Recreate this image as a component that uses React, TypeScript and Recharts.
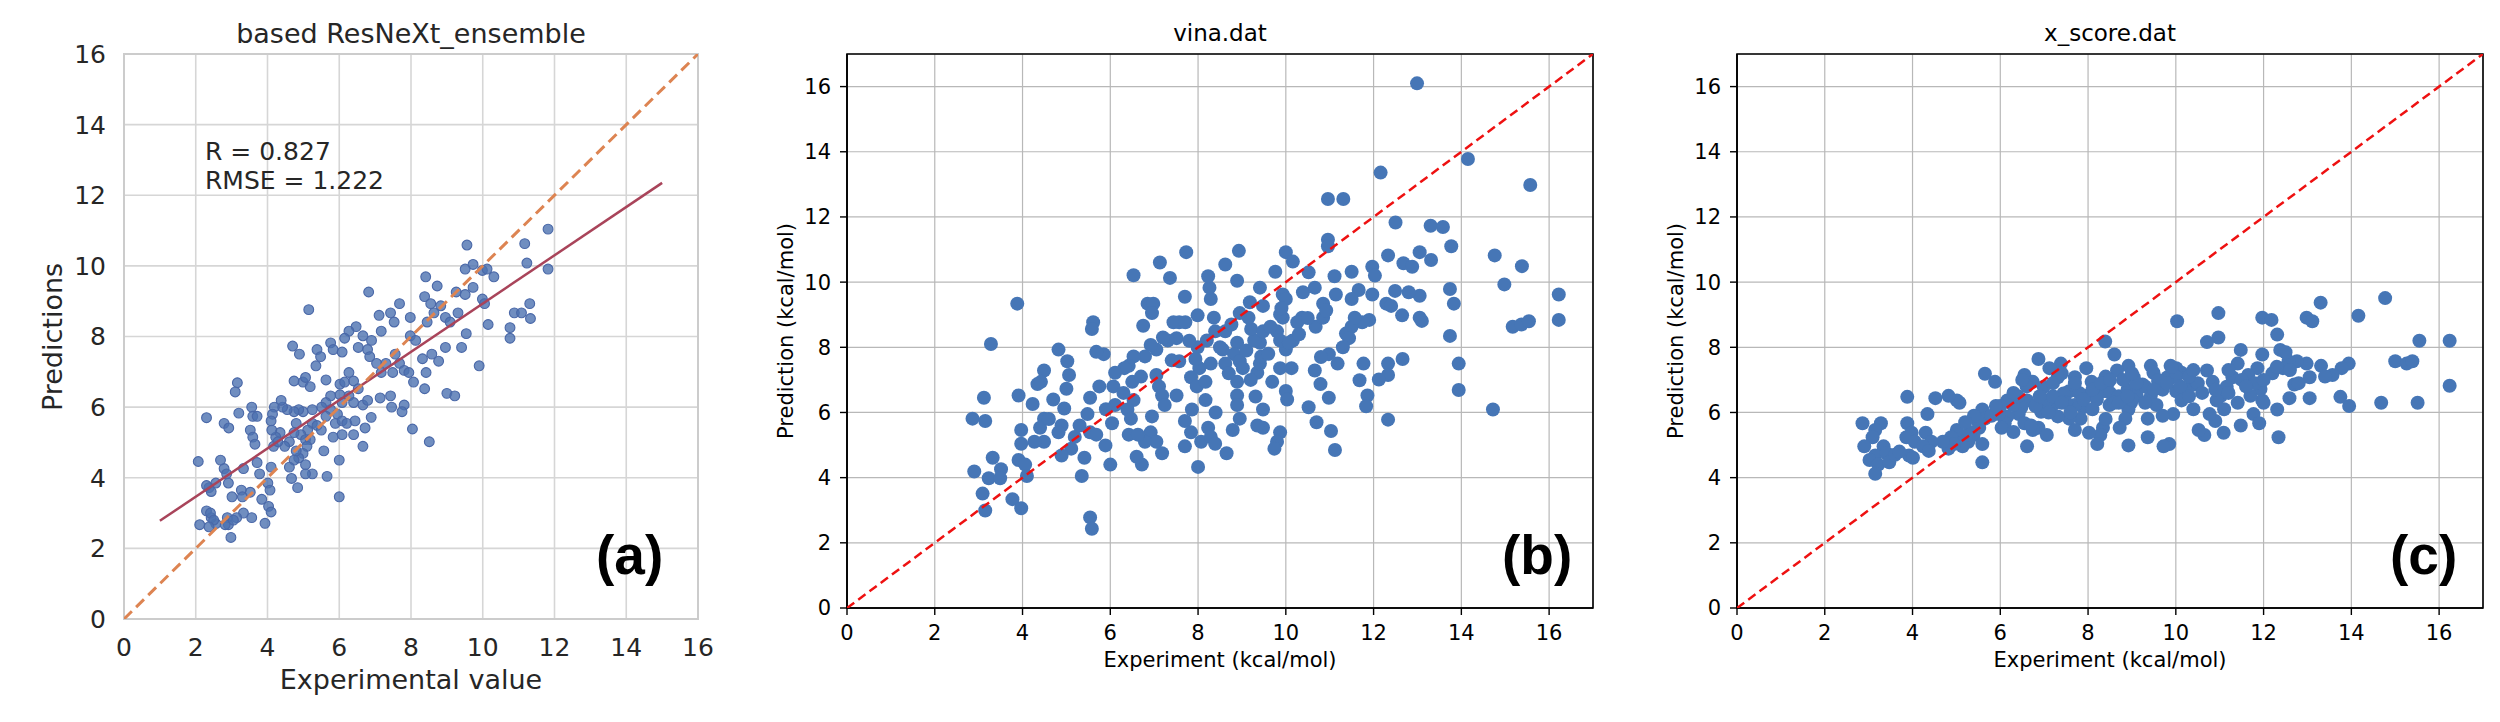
import React from 'react';
import { ScatterChart, Scatter, XAxis, YAxis, CartesianGrid, ReferenceArea } from 'recharts';

// ---------- Panel (a): based ResNeXt_ensemble ----------
const resnextExp = [11.82,11.17,11.23,11.82,9.56,9.73,9.51,9.99,10.12,10.31,10.15,10.76,10.76,10.88,11.08,11.31,11.33,9.99,10.05,8.41,8.73,9.26,9.51,9.73,9.54,9.41,9.90,8.96,9.00,9.22,8.77,8.58,8.64,8.38,8.45,8.55,8.83,8.96,9.09,9.31,7.98,7.98,8.13,7.68,7.56,7.81,7.94,8.07,7.81,7.75,8.04,8.51,8.38,8.42,8.32,7.68,7.43,7.53,7.11,7.17,6.82,6.90,7.04,7.30,7.17,7.49,7.14,7.43,7.46,6.89,6.72,6.66,6.47,6.66,6.27,6.15,6.53,6.79,6.85,6.08,5.76,5.83,5.38,5.48,5.35,5.15,4.70,4.89,4.99,5.06,4.74,5.19,5.63,6.02,6.15,6.27,6.40,6.53,6.27,6.40,6.66,6.79,6.02,6.08,5.76,5.63,5.51,5.76,5.95,5.63,5.89,6.08,6.21,6.44,6.40,6.08,5.83,6.00,6.00,5.66,5.57,5.25,5.25,5.38,5.50,5.12,4.99,4.87,4.74,4.55,4.80,4.93,5.06,5.19,5.10,4.99,4.87,5.06,5.25,4.74,4.61,4.48,4.80,4.74,4.61,4.67,5.06,4.84,4.35,4.23,4.42,4.38,4.19,4.14,4.10,4.12,4.17,4.29,4.10,4.01,4.07,4.03,4.10,3.93,3.78,3.71,3.84,3.52,3.56,3.33,3.27,3.30,3.14,3.01,3.56,3.59,3.71,3.52,3.59,3.65,3.20,3.16,3.10,3.33,2.79,2.86,2.91,2.56,2.37,2.43,2.30,2.30,2.07,2.79,2.92,2.56,2.88,2.91,2.82,2.98,2.30,2.43,2.41,2.50,2.11,2.37,2.69,3.05];
const resnextPred = [11.04,10.63,10.08,9.91,10.59,10.04,9.91,9.87,9.91,9.69,8.34,7.95,8.25,8.67,8.67,8.93,8.51,9.06,8.93,9.69,9.43,9.26,9.19,9.39,8.08,7.69,7.17,7.69,6.39,6.32,7.30,7.50,8.67,9.13,8.41,8.93,8.87,8.54,8.41,8.67,8.54,8.02,7.89,7.24,7.50,7.04,6.98,6.71,6.06,5.87,5.38,5.02,6.52,6.98,7.37,8.93,8.67,8.41,8.60,8.15,9.26,7.89,7.24,7.24,6.98,6.98,6.26,6.32,6.00,5.71,5.41,4.89,8.28,8.02,8.15,7.95,7.69,7.63,7.43,7.56,7.82,7.63,7.63,7.43,7.17,8.76,7.73,7.50,6.71,6.84,6.74,6.58,6.77,6.65,6.71,6.98,6.74,6.52,6.32,6.13,6.06,6.19,6.35,6.13,6.32,6.13,6.00,5.93,5.80,5.74,5.54,5.61,5.54,5.61,5.22,5.22,5.15,4.50,3.46,4.04,4.76,5.93,5.54,5.48,5.35,5.35,5.87,5.93,5.87,5.93,5.54,5.22,5.08,5.08,4.89,4.69,4.56,4.37,4.11,5.28,5.02,4.89,4.76,4.50,4.30,3.98,4.11,3.72,5.28,5.15,6.00,6.19,6.00,5.80,5.61,5.35,4.89,5.02,4.30,3.85,3.65,3.19,3.03,2.71,4.11,4.43,3.39,3.59,2.87,3.00,3.65,3.46,2.87,3.46,6.00,5.74,5.74,5.35,5.15,4.95,5.83,6.69,6.43,4.26,4.26,4.11,3.85,3.85,3.72,3.61,3.78,5.70,4.46,5.54,5.41,2.70,2.87,2.67,2.67,2.31,3.06,2.87,3.00,2.80,2.67,2.61,4.50,2.80];
const identityA = [{ x: 0, y: 0 }, { x: 16, y: 16 }];
const regressionA = [{ x: 1, y: 2.78 }, { x: 15, y: 12.35 }];
const ticksA = [0, 2, 4, 6, 8, 10, 12, 14, 16];

// ---------- Panel (b): vina.dat ----------
const vinaExp = [12.99,14.15,12.16,15.57,10.96,11.31,12.50,13.30,13.58,10.96,10.96,13.77,13.05,12.33,14.76,13.31,10.00,8.93,7.73,7.13,8.62,6.53,7.36,10.16,10.52,11.11,11.50,11.97,12.03,12.68,12.88,15.38,14.98,16.22,16.22,15.17,15.37,15.54,13.74,13.83,13.74,13.94,13.94,14.72,13.05,13.05,13.10,12.65,12.80,12.49,12.29,12.40,12.66,12.33,12.33,12.12,12.33,11.90,11.74,11.50,11.37,11.44,11.57,11.97,11.66,11.50,11.14,10.85,11.77,11.68,11.86,11.83,11.18,10.98,10.98,10.79,10.66,10.70,11.03,11.12,10.52,10.68,10.85,10.92,10.37,10.26,10.39,10.66,10.16,10.00,9.93,10.00,9.93,9.76,9.87,9.80,9.87,10.07,10.13,9.87,10.00,10.03,9.87,9.80,9.74,9.69,9.48,9.48,9.35,9.31,9.35,9.41,9.44,9.41,9.28,9.21,9.48,9.65,9.15,9.18,9.48,9.41,8.89,8.95,8.89,8.82,8.95,9.02,8.89,8.89,8.89,8.95,8.79,8.62,8.56,8.62,8.76,8.36,8.29,8.26,8.23,8.39,8.20,8.29,8.03,7.99,7.99,7.94,7.84,7.97,8.17,8.17,7.86,7.70,7.84,7.70,8.00,8.07,8.23,8.29,8.39,8.65,7.70,7.57,7.51,7.44,7.71,7.31,7.57,7.51,7.05,7.05,7.11,7.18,7.24,6.95,6.92,7.05,7.18,6.79,6.72,6.60,6.85,6.98,6.95,6.75,6.92,6.79,6.53,6.42,6.32,6.50,6.53,6.39,6.47,6.42,6.63,6.11,6.07,6.11,6.04,5.89,6.00,5.85,5.68,5.75,5.61,5.58,5.54,5.48,5.54,5.68,5.41,5.35,5.54,5.58,5.19,5.11,5.02,5.06,5.00,4.95,4.82,4.89,4.82,4.89,4.49,4.42,4.49,4.40,4.49,4.27,4.23,4.34,3.91,3.88,3.97,3.97,3.91,4.06,4.10,3.77,3.97,3.28,3.12,3.15,2.86,2.90,3.32,3.23,3.51,3.49,3.09,3.15,8.50,8.70,9.10,9.60,10.30,10.50,9.90,9.20,8.40,7.40,7.20,7.80,6.70,6.30,5.90,5.30,4.60,4.70,10.80,11.30];
const vinaPred = [16.10,13.78,13.36,12.98,12.55,12.55,11.83,11.73,11.69,11.30,11.10,11.10,10.92,10.82,10.82,10.68,10.92,10.96,10.92,10.60,10.54,10.21,10.13,10.63,10.30,10.18,10.32,10.47,10.20,10.58,10.47,10.49,9.93,9.62,8.84,8.63,8.70,8.80,9.79,9.34,8.35,7.50,6.69,6.09,9.58,8.91,8.81,8.98,9.69,9.73,9.34,9.27,7.64,7.50,7.15,7.01,5.78,8.84,8.77,8.63,8.42,8.28,8.91,9.62,9.76,9.48,9.62,9.34,7.50,6.99,6.52,6.19,7.50,7.79,6.45,6.87,7.29,5.70,5.43,4.85,6.16,8.63,8.91,9.13,8.91,8.77,9.69,9.83,8.21,7.93,9.62,9.48,8.91,10.32,9.01,8.49,8.21,8.14,7.36,7.36,6.66,6.40,5.39,5.10,4.89,6.94,6.09,5.53,5.60,6.49,7.22,7.50,7.72,8.14,8.21,8.56,8.49,8.63,8.91,9.38,9.27,9.83,10.04,9.05,8.14,7.79,7.57,7.36,6.94,6.52,6.23,5.81,5.46,7.50,7.93,8.49,8.70,8.91,9.48,9.83,10.18,8.49,8.21,7.50,7.36,8.00,8.98,7.64,7.08,6.80,6.94,6.38,6.09,5.74,5.39,4.96,4.33,5.10,5.53,5.25,5.04,4.75,9.55,8.77,8.28,8.77,8.77,8.21,7.57,6.52,7.93,7.15,6.80,6.52,6.23,5.88,5.39,5.10,4.75,5.10,4.40,4.64,9.34,9.34,9.05,8.66,8.07,7.72,7.72,7.43,7.36,6.94,6.38,6.09,5.81,5.32,5.32,7.22,6.80,6.23,5.67,4.99,4.40,7.79,7.86,6.80,8.77,8.56,6.45,5.95,5.39,5.32,4.61,4.05,2.78,2.43,5.25,4.89,7.57,7.15,6.73,6.12,7.93,5.60,5.39,4.68,7.29,6.94,5.81,5.53,5.10,5.10,6.26,6.87,6.52,9.34,5.46,5.04,4.54,4.40,4.05,3.34,3.06,8.10,6.45,5.74,5.81,4.19,4.61,3.98,4.26,3.98,3.51,2.99,8.00,7.20,7.90,7.80,8.40,8.90,9.20,7.00,6.00,7.60,8.30,8.20,7.10,6.60,6.10,5.60,5.80,6.40,7.70,8.00];

// ---------- Panel (c): x_score.dat ----------
const xscoreExp = [14.77,13.30,10.97,14.16,12.98,13.11,11.97,12.18,10.03,12.31,10.97,10.71,8.39,15.55,16.24,16.24,15.51,14.68,13.94,13.95,13.75,15.00,15.26,15.39,13.78,13.57,13.31,13.05,12.98,12.76,12.57,12.38,12.50,12.44,12.70,12.59,13.05,12.31,12.34,11.97,11.86,11.93,11.97,11.70,11.77,11.90,11.48,11.41,11.65,11.29,11.16,11.03,10.93,11.41,11.48,11.09,10.90,10.77,10.65,10.52,10.71,10.84,10.39,10.20,10.13,10.01,9.88,9.81,10.01,10.13,9.94,9.85,9.72,9.43,9.49,9.60,9.43,9.56,9.36,9.36,8.92,9.04,9.24,9.11,8.98,8.92,8.85,8.72,8.92,8.60,8.66,8.47,8.34,8.49,8.34,8.28,8.21,7.96,8.08,7.96,7.89,7.83,8.02,7.70,7.57,7.70,7.57,7.70,7.38,7.31,7.44,7.19,7.31,7.12,6.99,7.06,6.93,6.87,7.06,6.87,6.55,6.74,6.61,6.48,6.42,6.55,6.74,6.61,6.29,6.16,6.10,5.88,5.65,6.16,5.97,6.03,5.59,5.65,5.52,5.39,5.59,5.59,5.27,5.14,5.07,5.01,4.88,4.94,4.82,4.69,5.01,5.07,4.82,4.52,4.34,3.88,3.88,3.98,3.86,4.05,3.92,4.01,4.30,4.43,4.24,4.37,3.28,3.15,3.09,3.34,3.15,3.41,3.02,3.22,3.47,3.15,2.86,2.90,8.50,8.70,8.90,9.10,9.30,8.20,8.60,9.00,9.70,10.30,10.50,10.00,9.60,8.80,8.40,7.50,7.80,7.20,6.80,6.40,6.00,5.80,5.50,5.30,11.20,11.50,11.80,12.20,12.60,3.60,3.70,6.30,6.60,6.90,7.20,7.40,7.70,7.90,8.10,8.30,8.50,8.70,8.90,9.10,9.30,9.50,9.80,10.10,10.30,10.60,10.90,11.20,11.60,12.00,12.30,9.00,9.90,10.40,8.40,8.10,7.60,7.10,6.70,6.30,9.70,10.40,11.10,12.00,12.80,13.40,7.40,6.50,5.90,5.40,5.20];
const xscorePred = [9.51,9.37,9.05,8.97,8.91,8.80,8.91,8.84,8.80,8.39,8.30,8.16,8.18,8.20,8.20,6.82,6.30,6.30,7.50,6.20,6.48,7.57,7.50,7.57,7.36,7.15,7.43,7.08,7.50,7.57,7.57,7.92,7.85,7.36,6.86,6.44,6.44,6.09,5.24,7.78,7.36,6.72,6.37,6.51,5.95,5.67,7.92,7.50,7.15,7.08,6.79,6.51,6.37,6.30,5.60,5.38,5.74,5.95,5.31,5.46,7.29,6.94,6.86,6.72,7.22,7.36,7.43,7.08,6.65,6.37,5.95,5.03,4.96,7.43,7.22,6.94,6.51,6.23,5.81,5.24,7.43,7.08,6.86,6.51,6.30,6.09,5.81,5.53,4.99,7.78,7.29,6.94,6.65,6.23,5.53,5.31,5.03,7.36,6.94,6.51,6.16,5.81,5.38,7.08,6.65,6.23,5.81,5.46,7.50,7.08,6.58,6.23,5.88,7.36,6.79,6.37,6.02,5.53,5.31,7.64,7.15,6.94,6.37,6.16,5.95,5.67,5.46,4.96,6.23,5.88,5.67,6.94,7.19,6.37,5.95,5.53,6.09,5.81,5.53,5.31,5.03,4.47,5.10,4.96,5.31,5.46,5.24,5.03,4.89,5.10,6.37,6.30,6.51,6.44,5.95,6.48,5.67,5.38,5.24,5.10,4.68,4.61,5.38,5.10,4.96,4.82,5.67,5.46,5.24,4.96,4.68,4.75,4.54,4.40,4.47,4.12,5.67,4.96,6.60,6.50,6.70,6.60,6.80,6.40,6.30,6.40,6.70,6.50,6.90,7.10,7.00,7.00,7.10,6.30,6.60,6.50,6.20,6.50,6.20,5.90,5.70,5.40,7.30,7.00,6.90,7.20,7.30,4.70,4.80,6.60,6.80,6.50,6.90,6.30,6.90,6.40,6.70,6.90,7.00,6.30,6.50,6.90,6.30,6.70,6.90,6.80,7.10,6.60,6.70,6.60,6.80,7.00,7.40,7.20,7.40,7.30,5.80,6.10,6.00,6.00,5.60,5.40,5.90,6.10,6.10,6.30,6.90,7.10,7.20,7.00,6.20,5.90,5.70];
const identityBC = [{ x: 0, y: 0 }, { x: 17, y: 17 }];
const ticksBC = [0, 2, 4, 6, 8, 10, 12, 14, 16];

const zip = (xs: number[], ys: number[]) => xs.map((x, i) => ({ x, y: ys[i] }));
const dataA = zip(resnextExp, resnextPred);
const dataB = zip(vinaExp, vinaPred);
const dataC = zip(xscoreExp, xscorePred);

const FONT = "'DejaVu Sans', sans-serif";
const BOLD = "'Liberation Sans', Arial, sans-serif";

const dotA = (p: any) => (
  <circle cx={p.cx} cy={p.cy} r={4.9} fill="#4c72b0" fillOpacity={0.8} stroke="#4a68a8" strokeWidth={1.1} />
);
const dotBC = (p: any) => <circle cx={p.cx} cy={p.cy} r={7} fill="#4676b6" />;
const noDot = () => <g />;

function PanelA() {
  return (
    <ScatterChart width={760} height={722} margin={{ top: 54, right: 62, bottom: 63, left: 64 }}>
      <CartesianGrid stroke="#d6d6d6" strokeWidth={1.6} />
      <ReferenceArea x1={0} x2={16} y1={0} y2={16} fill="none" fillOpacity={0} stroke="#cccccc" strokeWidth={2} />
      <XAxis type="number" dataKey="x" domain={[0, 16]} ticks={ticksA} height={40} axisLine={false} tickLine={false} tickSize={0} tickMargin={19} tick={{ fontSize: 25, fill: '#262626', fontFamily: FONT }} allowDataOverflow />
      <YAxis type="number" dataKey="y" domain={[0, 16]} ticks={ticksA} width={60} axisLine={false} tickLine={false} tickSize={0} tickMargin={18} tick={{ fontSize: 25, fill: '#262626', fontFamily: FONT }} allowDataOverflow />
      <Scatter data={dataA} shape={dotA} isAnimationActive={false} />
      <Scatter data={regressionA} shape={noDot} line={{ stroke: '#a9445a', strokeWidth: 2.5 }} isAnimationActive={false} />
      <Scatter data={identityA} shape={noDot} line={{ stroke: '#dd8452', strokeWidth: 3, strokeDasharray: '11 6' }} isAnimationActive={false} />
    </ScatterChart>
  );
}

function PanelBC({ data, left, right }: { data: { x: number; y: number }[]; left: number; right: number }) {
  const tick = { fontSize: 21, fill: '#000', fontFamily: FONT };
  return (
    <ScatterChart width={left + 60 + 746 + right} height={722} margin={{ top: 54, right, bottom: 74, left }}>
      <CartesianGrid stroke="#b8b8b8" strokeWidth={1.2} />
      <XAxis type="number" dataKey="x" domain={[0, 17]} ticks={ticksBC} height={40} axisLine={{ stroke: '#000', strokeWidth: 1.6 }} tickLine={{ stroke: '#000', strokeWidth: 1.4 }} tickSize={7} tickMargin={10} tick={tick} allowDataOverflow />
      <YAxis type="number" dataKey="y" domain={[0, 17]} ticks={ticksBC} width={60} axisLine={{ stroke: '#000', strokeWidth: 1.6 }} tickLine={{ stroke: '#000', strokeWidth: 1.4 }} tickSize={7} tickMargin={9} tick={tick} allowDataOverflow />
      <Scatter data={data} shape={dotBC} isAnimationActive={false} />
      <Scatter data={identityBC} shape={noDot} line={{ stroke: '#ee1111', strokeWidth: 2.5, strokeDasharray: '9 5' }} isAnimationActive={false} />
      <ReferenceArea x1={0} x2={17} y1={0} y2={17} fill="none" fillOpacity={0} stroke="#000" strokeWidth={1.6} />
    </ScatterChart>
  );
}

export default function App() {
  return (
    <div style={{ position: 'absolute', left: 0, top: 0, width: 2500, height: 722, background: '#fff', overflow: 'hidden' }}>
      <div style={{ position: 'absolute', left: 0, top: 0 }}>
        <PanelA />
      </div>
      <div style={{ position: 'absolute', left: 760, top: 0 }}>
        <PanelBC data={dataB} left={27} right={27} />
      </div>
      <div style={{ position: 'absolute', left: 1620, top: 0 }}>
        <PanelBC data={dataC} left={57} right={17} />
      </div>
      <svg width={2500} height={722} style={{ position: 'absolute', left: 0, top: 0, pointerEvents: 'none' }}>
        <g fontFamily={FONT} fill="#262626">
          <text x={411} y={43} fontSize={27} textAnchor="middle">based ResNeXt_ensemble</text>
          <text x={411} y={689} fontSize={27} textAnchor="middle">Experimental value</text>
          <text transform="translate(62,337) rotate(-90)" fontSize={27} textAnchor="middle">Predictions</text>
          <text x={205} y={160} fontSize={25}>R = 0.827</text>
          <text x={205} y={189} fontSize={25}>RMSE = 1.222</text>
        </g>
        <g fontFamily={FONT} fill="#000">
          <text x={1220} y={41} fontSize={23} textAnchor="middle">vina.dat</text>
          <text x={1220} y={667} fontSize={21} textAnchor="middle">Experiment (kcal/mol)</text>
          <text transform="translate(793,331) rotate(-90)" fontSize={21} textAnchor="middle">Prediction (kcal/mol)</text>
          <text x={2110} y={41} fontSize={23} textAnchor="middle">x_score.dat</text>
          <text x={2110} y={667} fontSize={21} textAnchor="middle">Experiment (kcal/mol)</text>
          <text transform="translate(1683,331) rotate(-90)" fontSize={21} textAnchor="middle">Prediction (kcal/mol)</text>
        </g>
        <g fontFamily={BOLD} fontWeight="bold" fill="#000" fontSize={55}>
          <text x={596} y={574}>(a)</text>
          <text x={1502} y={574}>(b)</text>
          <text x={2390} y={574}>(c)</text>
        </g>
      </svg>
    </div>
  );
}
